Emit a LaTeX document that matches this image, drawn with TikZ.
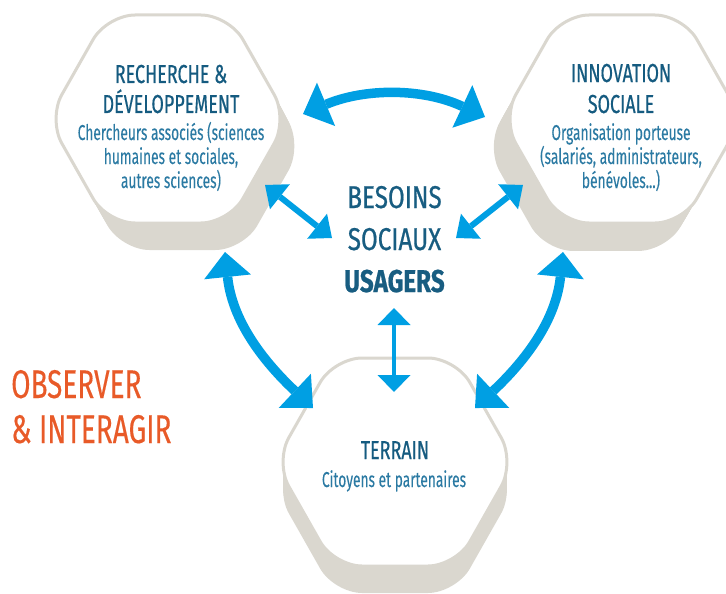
\documentclass[tikz,border=0pt]{standalone}
\usepackage{fontspec}
\setmainfont{Fira Sans}
\newfontfamily\titlefont{Fira Sans}[FakeStretch=0.69,FakeBold=0.5]
\newfontfamily\subfont{Fira Sans}[FakeStretch=0.64,FakeBold=0.1]
\newfontfamily\centfont{Fira Sans}[FakeStretch=0.77,FakeBold=0.6]
\newfontfamily\obsfont{Fira Sans}[FakeStretch=0.70,FakeBold=0.3]
\usetikzlibrary{arrows.meta}
\definecolor{hexgray}{HTML}{DAD7CF}
\definecolor{arrowblue}{HTML}{009FE3}
\definecolor{titleblue}{HTML}{155B80}
\definecolor{subblue}{HTML}{2B7AA3}
\definecolor{centblue}{HTML}{185D81}
\definecolor{obsorange}{HTML}{E85A28}
\newcommand\hexshape[2]{({#1},{#2-104}) -- ({#1+61},{#2-104}) -- ({#1+120},{#2}) -- ({#1+61},{#2+104}) -- ({#1-61},{#2+104}) -- ({#1-120},{#2}) -- ({#1-61},{#2-104}) -- cycle}
\tikzset{
  hexshadow/.style={fill=hexgray, rounded corners=28pt},
  hexface/.style={fill=white, draw=hexgray, line width=3pt, rounded corners=28pt},
  ttl/.style={anchor=base, inner sep=0pt, text=titleblue, font=\titlefont\fontsize{26}{31}\selectfont},
  sub/.style={anchor=base, inner sep=0pt, text=subblue, font=\subfont\fontsize{21.5}{24.5}\selectfont},
  cent/.style={anchor=base, inner sep=0pt, text=centblue, font=\centfont\fontsize{31.5}{42}\selectfont},
  centb/.style={anchor=base, inner sep=0pt, text=centblue, font=\centfont\bfseries\fontsize{31.5}{42}\selectfont},
  obs/.style={anchor=base west, inner sep=0pt, text=obsorange, font=\obsfont\fontsize{40}{45}\selectfont},
  bigarrow/.style={draw=arrowblue, line width=9.5pt,
    {Triangle[length=25pt,width=47pt,line width=0pt]}-{Triangle[length=25pt,width=47pt,line width=0pt]}},
  smallarrow/.style={draw=arrowblue, line width=6pt,
    {Triangle[length=19pt,width=32pt,line width=0pt]}-{Triangle[length=19pt,width=32pt,line width=0pt]}},
  vertarrow/.style={draw=arrowblue, line width=4.5pt,
    {Triangle[length=17pt,width=33pt,line width=0pt]}-{Triangle[length=17pt,width=33pt,line width=0pt]}},
}
\begin{document}
\begin{tikzpicture}[x=1pt,y=-1pt]
\useasboundingbox (0,0) rectangle (726,594);
\clip (0,0) rectangle (726,594);
% shadows
\foreach \t in {0,0.1,...,1.0} {
  \fill[hexshadow, shift={({\t*16},{\t*30})}] \hexshape{168}{119};
  \fill[hexshadow, shift={({\t*(-18)},{\t*31})}] \hexshape{622}{119};
  \fill[hexshadow, shift={(0,{\t*30})}] \hexshape{395}{462};
}
% faces
\filldraw[hexface] \hexshape{168}{119};
\filldraw[hexface] \hexshape{622}{119};
\filldraw[hexface] \hexshape{395}{462};
% texts: R&D
\node[ttl] (rd1) at (171,83) {RECHERCHE \&};
\node[ttl] (rd2) at (171,113) {DÉVELOPPEMENT};
\node[sub] (rd3) at (171,140) {Chercheurs associés (sciences};
\node[sub] (rd4) at (171,164) {humaines et sociales,};
\node[sub] (rd5) at (171,188) {autres sciences)};
% innovation
\node[ttl] (in1) at (621,82) {INNOVATION};
\node[ttl] (in2) at (621,113) {SOCIALE};
\node[sub] (in3) at (621,140) {Organisation porteuse};
\node[sub] (in4) at (621,164) {(salariés, administrateurs,};
\node[sub] (in5) at (621,188) {bénévoles...)};
% terrain
\node[ttl] (te1) at (395,459) {TERRAIN};
\node[sub] (te2) at (394,487) {Citoyens et partenaires};
% centre
\node[cent] (c1) at (394.5,208) {BESOINS};
\node[cent] (c2) at (394.5,250) {SOCIAUX};
\node[centb] (c3) at (394.5,292) {USAGERS};
% observer
\node[obs] (o1) at (11,398) {OBSERVER};
\node[obs] (o2) at (11,443) {\& INTERAGIR};
% arrow end points
\coordinate (ta1) at (303,114);
\coordinate (ta2) at (485,117);
\coordinate (la1) at (225,252);
\coordinate (la2) at (313,408);
\coordinate (ra1) at (563,252);
\coordinate (ra2) at (475,408);
\coordinate (dl1) at (265,185);
\coordinate (dl2) at (332,238);
\coordinate (dr1) at (523,185);
\coordinate (dr2) at (456,238);
\coordinate (v1) at (394,308);
\coordinate (v2) at (394,392);
% arrows
\draw[bigarrow] (ta1) .. controls (365,88) and (423,88) .. (ta2);
\draw[bigarrow] (la1) .. controls (232,320) and (262,360) .. (la2);
\draw[bigarrow] (ra1) .. controls (556,320) and (526,360) .. (ra2);
\draw[smallarrow] (dl1) -- (dl2);
\draw[smallarrow] (dr1) -- (dr2);
\draw[vertarrow] (v1) -- (v2);
\end{tikzpicture}
\end{document}
